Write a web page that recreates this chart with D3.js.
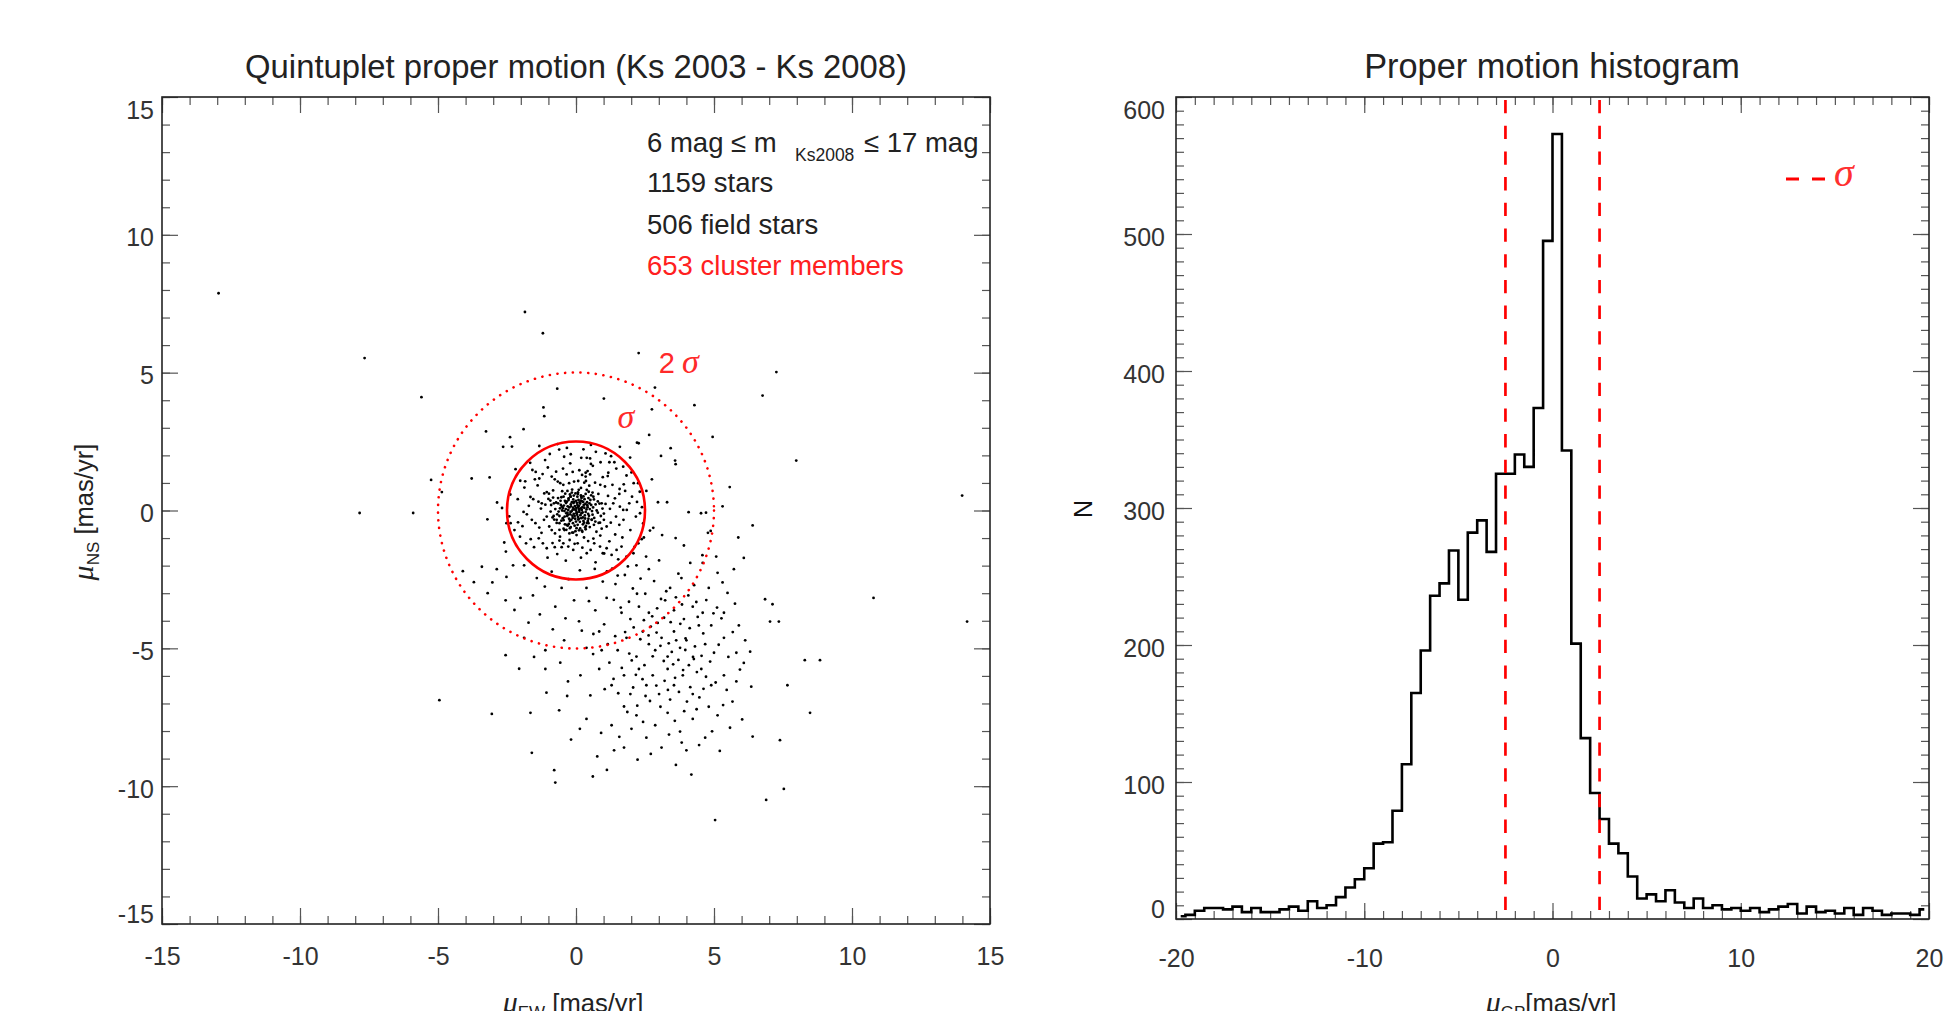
<!DOCTYPE html>
<html><head><meta charset="utf-8">
<script src="https://cdn.jsdelivr.net/npm/d3@7"></script>
<style>body{margin:0;background:#fff} svg{display:block}</style>
</head><body>
<svg id="c" width="1957" height="1011"></svg>
<script>
// ---------------- DATA ----------------
// histogram of mu_GP, bins of 0.5 mas/yr, first bin centre -19.75
const histBinCenters = d3.range(-19.75, 20, 0.5);
const histCounts = [2,3,6,8,8,7,9,5,8,5, 5,7,9,6,13,8,10,16,23,29,
  37,55,56,79,113,165,196,236,245,269, 233,282,291,268,325,325,339,330,373,495,
  573,342,201,132,92,73,55,48,31,15, 18,13,21,12,8,15,8,10,7,8,
  6,8,5,7,9,11,4,9,5,6, 4,8,3,8,6,3,4,4,3,7];
const sigma = 2.5;
// star proper motions [mu_EW, mu_NS] in mas/yr
const coreStars = [[0.0,0.0],[0.1,0.05],[-0.1,0.1],[0.2,-0.1],[-0.2,-0.05],[0.05,0.2],[-0.05,-0.2],[0.15,0.25],[-0.15,0.3],[0.3,0.1],[-0.3,0.15],[0.25,-0.25],[-0.25,-0.3],[0.35,-0.05],[-0.35,-0.1],[0.0,0.35],[0.0,-0.4],[0.1,-0.3],[-0.1,0.4],[0.4,0.3],[-0.4,0.35],[0.45,-0.3],[-0.45,-0.35],[0.5,0.05],[-0.5,0.0],[0.2,0.45],[-0.2,0.5],[0.25,-0.5],[-0.3,-0.55],[0.55,0.2],[-0.55,0.2],[0.6,-0.15],[-0.6,-0.2],[0.08,0.12],[-0.08,-0.12],[0.12,-0.05],[-0.12,0.03],[0.18,0.08],[-0.18,0.15],[0.02,-0.1],[0.28,0.2],[-0.28,0.02],[0.32,-0.18],[-0.32,-0.2],[0.05,0.5],[-0.05,-0.55],[0.4,-0.45],[-0.4,-0.5],[0.45,0.45],[-0.45,0.5],[0.65,0.4],[-0.65,0.45],[0.7,-0.4],[-0.7,-0.45],[0.15,-0.65],[-0.15,0.65],[0.35,0.6],[-0.35,-0.7],[0.75,0.0],[-0.75,0.05],[0.22,0.33],[-0.22,-0.38],[0.5,-0.6],[-0.5,0.7],[0.85,0.25],[-0.85,-0.25],[0.1,0.75],[-0.1,-0.8],[0.6,0.65],[-0.6,-0.7],[0.9,-0.2],[-0.9,0.2],[0.42,0.12],[-0.42,-0.02],[0.03,0.28],[-0.03,-0.3],[0.27,-0.38],[-0.27,0.38],[0.58,-0.02],[-0.58,0.08],
  [0.03,-0.07],[-0.06,0.04],[0.11,0.17],[-0.13,-0.19],[0.21,0.02],[-0.19,0.22],[0.07,-0.23],[-0.24,0.11],[0.16,-0.17],[-0.09,0.27],[0.26,0.31],[-0.31,-0.08],[0.33,-0.29],[-0.17,-0.34],[0.09,0.38],[-0.36,0.27],[0.38,0.04],[-0.04,0.16],[0.14,-0.41],[-0.41,-0.22],[0.23,0.12],[-0.27,0.44],[0.44,-0.12],[-0.11,-0.46],[0.31,0.41],[-0.47,0.09],[0.06,-0.52],[0.49,0.26],[-0.22,0.58],[0.18,0.55],[-0.53,-0.37],[0.57,-0.33],[-0.02,0.62],[0.36,-0.56],[-0.39,0.61],[0.62,0.11],[-0.63,-0.04],[0.12,0.02],[-0.16,-0.03],[0.01,0.09],[0.04,-0.15],[-0.21,-0.14],[0.24,-0.07],[0.17,0.36],[-0.33,0.32],[0.29,-0.44],[-0.26,-0.49],[0.41,0.19],[-0.44,0.18],[0.08,-0.33],[-0.07,0.31],[0.34,0.24],[-0.12,-0.27],[0.19,-0.28],[-0.29,-0.15],[0.13,0.29],[-0.37,0.05],[0.47,-0.19],[-0.48,-0.28],[0.27,0.51],[-0.08,0.54],[0.02,-0.64],[-0.19,-0.6],[0.43,-0.38],[0.52,0.38],[-0.56,0.35],[0.66,-0.27],[-0.68,-0.14],[0.11,-0.72],[-0.31,0.71],[0.71,0.22],[-0.72,0.29],[0.23,-0.77],[-0.45,-0.66],[0.55,0.55],[0.07,0.66],[-0.02,-0.75],[0.35,-0.68],[-0.14,0.76],[0.79,-0.08],[-0.79,-0.33],[0.46,0.68],[-0.24,-0.83],[0.18,0.82],[0.82,-0.45],[-0.83,0.47]];
const innerStars = [[-0.43,1.95],[0.19,1.91],[0.39,1.91],[0.51,1.89],[0.54,1.69],[0.89,1.75],[1.21,1.75],[1.39,1.75],[1.58,0.78],[1.73,0.95],
  [-0.72,1.41],[-0.34,1.31],[-0.12,1.4],[0.12,1.46],[0.35,1.37],[0.42,1.43],[0.22,1.29],[0.35,1.23],[0.51,1.31],[1.17,1.37],[1.15,1.25],
  [-1.58,1.47],[-1.46,1.4],[-1.49,1.13],[-1.33,1.16],[-1.15,0.62],[-1.06,0.67],[-0.77,1.13],[-0.66,1.05],[-0.57,0.99],[-0.46,0.93],[-0.25,0.99],[-0.07,1.05],[0.08,1.07],[0.3,1.01],[0.36,1.07],[0.48,0.9],[0.69,1.01],[0.88,0.93],[1.05,0.87],[1.32,0.93],[1.57,0.6],
  [-1.65,0.49],[-1.55,0.41],[-1.36,0.32],[-1.24,0.26],[-1.0,0.42],[-0.93,0.36],[-0.8,0.26],[-0.65,0.26],[-0.53,0.48],[-0.51,0.14],[-0.38,0.32],[-0.19,0.5],[0.07,0.6],[0.19,0.5],[0.39,0.75],[0.63,0.5],[0.81,0.6],[0.93,0.26],[1.07,0.24],[1.35,0.26],[1.59,0.14],[1.71,0.02],[1.93,0.26],[2.03,0.5],
  [-1.6,-0.34],[-1.47,-0.46],[-1.33,-0.62],[-1.16,-0.34],[-1.06,-0.22],[-0.92,-0.04],[-0.81,-0.2],[-0.7,-0.34],[-0.6,-0.46],[-0.88,-0.71],[-0.76,-0.83],[-0.58,-0.95],[-0.42,-0.71],[-0.34,-0.52],[-0.22,-0.64],[-0.14,-0.8],[0.02,-0.89],[0.21,-0.73],[0.33,-0.61],[0.45,-0.46],[0.57,-0.34],[0.65,-0.52],[0.87,-0.44],[1.01,-0.34],[1.11,-0.58],[1.26,-0.44],[1.45,-0.22],[1.57,-0.52],[1.72,-0.34],[1.84,0.02],[2.17,-0.22],[2.32,-0.1],
  [-2.03,-0.95],[-1.81,-1.19],[-1.64,-1.04],[-1.35,-1.01],[-1.2,-1.19],[-1.06,-1.37],[-0.77,-1.33],[-0.6,-1.09],[-0.46,-1.19],[-0.28,-1.31],[-0.1,-1.43],[0.06,-1.19],[0.23,-1.35],[0.39,-1.55],[0.53,-1.43],[0.66,-1.19],[0.87,-1.31],[0.97,-1.55],[1.11,-1.37],[1.29,-1.61],[1.47,-1.43],[1.65,-1.31],[1.83,-1.67],[2.08,-1.55],[2.26,-1.19],[2.38,-1.04],[2.46,-0.98],[2.54,-1.67],
  [-1.12,1.83],[-0.61,2.21],[0.72,2.13],[1.46,1.52],[1.83,1.27],[-1.87,0.83],[-2.11,0.41],[-2.23,-0.71],[-1.94,-0.57],[-1.71,0.17],[-1.39,0.91],[-1.02,1.56],[-0.83,0.73],[-0.97,-0.58],[-1.25,-0.81],[-1.52,-1.33],[-1.03,-1.71],[-0.68,-1.58],[-0.37,-1.82],[0.18,-1.71],[0.71,-1.88],[1.21,-1.12],[1.42,-0.87],[1.68,-0.98],[1.97,-0.71],[2.12,-1.32],[1.88,-2.03],[1.31,-2.11],[0.88,-0.91],[0.63,-1.02],[1.16,0.53],[1.41,0.44],[1.78,0.71],[2.21,0.31],[2.31,0.68],[0.97,1.21],[0.61,1.62],[-0.21,1.71],[-0.47,1.52],[-0.88,1.23],[-1.21,1.32],[-2.02,1.08],[-1.78,-0.14],[-1.27,0.07],[-1.11,0.21],[-0.98,0.61],[1.01,-0.11],[1.23,0.06],[0.96,0.07],[0.79,0.33],[0.93,-0.66],[0.74,-0.77],[-0.52,-1.33],[-0.85,-1.18],[0.44,-1.11],[0.29,-0.98],[-0.23,-1.07],[-0.05,-1.21],[1.53,-1.77],[1.02,-1.56],[2.43,-0.47],[2.39,0.12],[-2.38,0.58],[-2.42,-0.21],[-0.33,2.27],[0.27,2.22],[1.07,2.07],[-1.66,1.73],[1.71,1.59],[2.01,1.38]];
const haloStars = [[-1.85,7.2],[-1.2,6.43],[2.27,5.71],[-5.6,4.11],[-0.68,4.42],[1.01,4.06],[2.86,4.46],[4.29,3.82],[-1.18,3.74],[-1.15,3.42],[2.75,3.67],[-1.9,2.95],[-3.26,2.87],[-2.39,2.66],[-2.64,2.31],[-2.32,2.32],[-1.33,2.34],[-0.67,2.41],[0.54,2.38],[1.59,2.31],[2.21,2.46],[2.27,2.44],[2.65,2.74],[3.43,2.26],[4.95,2.67],[-0.95,2.05],[-0.19,2.04],[1.27,1.97],[1.96,1.92],[3.08,1.98],[3.59,1.81],[3.61,1.68],[-5.25,1.11],[-3.78,1.16],[-3.13,1.2],[-2.19,1.5],[-4.86,0.67],[-2.86,0.29],[-2.68,0.09],[-3.21,-0.32],[-2.52,-0.46],[-2.37,-0.46],[-2.1,-0.43],[-1.9,-0.05],[-1.84,1.06],[2.75,1.13],[2.09,0.99],[2.25,0.99],[2.55,0.71],[2.97,0.3],[3.3,0.3],[4.08,-0.06],[4.53,-0.1],[4.71,-0.08],[5.57,0.85],[5.31,0.15],[5.88,-0.98],[4.88,-0.74],[4.78,-0.81],[2.8,-0.63],[2.68,-0.73],[3.12,-0.89],[3.61,-1.0],[3.91,-1.27],[-2.6,-1.16],[-2.54,-1.49],[4.58,-1.62],[5.08,-1.67]];
const fieldStars = [[-3.41,-2.04],[-2.87,-2.13],[-2.28,-1.99],[-1.88,-1.99],[-1.42,-2.45],[-0.88,-2.22],[-0.52,-2.81],[0.38,-2.81],[0.97,-2.58],[1.51,-2.36],[2.19,-1.99],[2.64,-2.13],[3.01,-1.81],[3.41,-2.81],[3.82,-2.45],[4.14,-1.9],[4.59,-1.9],[4.81,-2.81],[5.13,-2.26],[5.49,-2.99],[5.72,-2.13],
  [-2.55,-3.26],[-2.01,-3.17],[-1.56,-3.08],[-0.75,-3.49],[-0.07,-3.26],[0.7,-3.62],[1.11,-3.17],[1.65,-3.71],[1.97,-3.94],[2.28,-3.49],[2.64,-3.71],[2.96,-4.08],[3.23,-3.26],[3.55,-3.62],[3.91,-3.94],[4.23,-3.49],[4.59,-3.71],[4.9,-4.17],[5.36,-3.71],[5.9,-4.17],
  [-1.88,-4.62],[-1.11,-5.07],[-0.43,-4.71],[0.38,-4.98],[0.84,-4.39],[1.15,-4.85],[1.51,-5.07],[1.83,-4.62],[2.19,-5.3],[2.42,-4.39],[2.64,-4.85],[2.87,-5.07],[3.1,-4.62],[3.32,-5.3],[3.55,-4.39],[3.77,-4.98],[4.0,-4.71],[4.27,-5.39],[4.45,-4.17],[4.68,-4.85],[5.0,-5.16],[5.36,-4.62],[5.81,-5.16],[6.08,-5.53],
  [-1.11,-5.75],[-0.29,-6.2],[0.16,-5.98],[0.84,-5.75],[1.29,-6.34],[1.74,-5.98],[1.97,-6.66],[2.28,-5.75],[2.55,-6.34],[2.78,-5.98],[3.01,-6.66],[3.32,-5.75],[3.55,-6.34],[3.87,-5.98],[4.23,-6.66],[4.54,-5.75],[4.9,-6.34],[5.36,-5.98],[5.81,-6.2],
  [-1.65,-7.34],[-0.61,-7.25],[0.38,-7.56],[1.29,-7.79],[1.74,-7.11],[2.19,-7.43],[2.55,-8.24],[2.87,-7.79],[3.32,-7.34],[3.77,-8.02],[4.23,-7.56],[4.68,-8.24],[5.13,-7.43],[5.58,-7.88],[4.0,-8.7],[3.1,-8.6],[1.74,-8.6],[1.38,-8.7],
  [-4.1,-2.2],[-3.7,-2.6],[-3.2,-3.0],
  [1.12,-2.21],[1.43,-2.67],[1.77,-2.34],[2.06,-2.83],[2.34,-2.47],[2.51,-3.02],[2.83,-2.56],[3.08,-3.21],[3.27,-2.93],[3.62,-3.15],[3.84,-3.41],[4.07,-3.08],[4.36,-3.32],[4.72,-3.25],[5.11,-3.52],[5.27,-3.91],[4.98,-3.73],[4.41,-3.86],[4.12,-4.27],[3.78,-4.11],[3.43,-4.05],[3.19,-3.89],[2.71,-4.21],[2.46,-3.98],[2.09,-4.24],[1.78,-4.41],[1.42,-4.56],[1.02,-4.13],[0.63,-4.48],[0.21,-4.36],[2.33,-4.67],[2.92,-4.43],[3.36,-4.82],[3.63,-4.71],[3.96,-5.06],[4.31,-4.93],[4.55,-5.27],[4.86,-5.48],[5.17,-4.87],[5.52,-5.31],[5.68,-4.41],[3.47,-5.13],[3.18,-5.46],[2.78,-5.29],[2.48,-5.61],[2.02,-5.44],[1.66,-5.71],[1.21,-5.52],[0.62,-5.21],[3.71,-5.42],[4.09,-5.61],[3.88,-5.79],[4.38,-5.86],[4.71,-6.03],[5.06,-6.24],[5.46,-6.51],[3.59,-6.07],[3.21,-6.18],[2.91,-6.35],[2.41,-6.12],[2.07,-6.42],[1.53,-6.63],[1.04,-6.48],[0.52,-6.71],[3.73,-6.58],[4.14,-6.41],[4.47,-6.78],[4.02,-6.93],[3.41,-6.86],[2.68,-6.91],[2.22,-7.08],[1.86,-7.31],[3.06,-7.12],[3.58,-7.63],[3.92,-7.28],[4.37,-7.21],[4.81,-7.12],[5.33,-7.06],[2.43,-7.67],[2.01,-7.92],[1.57,-8.21],[0.91,-8.07],[3.37,-8.13],[3.83,-8.42],[4.46,-8.51],[2.71,-8.83],[2.23,-9.04],[0.14,-7.92],[-0.32,-6.73],[-0.57,-5.52],[-0.84,-4.31],[-1.31,-3.77],[-1.72,-4.07],[-2.23,-3.61],[-0.38,-3.91],[0.11,-4.02],[0.47,-3.29],[-0.27,-2.49],[0.14,-2.17],[0.68,-2.12],[-1.13,-2.76],[-2.52,-2.41],[-3.03,-2.61],[1.37,-3.24],[1.92,-3.31],[2.21,-3.02],[2.94,-3.55],[3.71,-2.29],[4.28,-2.71],[5.31,-2.61],[5.76,-3.38],[6.13,-4.71],[6.31,-5.12],[5.94,-5.77],[5.67,-6.93],[6.02,-7.58],[4.93,-8.01],[5.21,-8.72],[1.93,-5.19],[2.63,-4.53],[3.06,-4.91],[3.52,-5.58],[4.24,-5.31],[3.33,-6.51],[2.52,-6.73],[4.62,-6.47],[3.97,-4.64],[4.61,-4.46],[2.17,-5.96],[1.36,-6.11],[0.93,-5.07],[1.62,-3.52],[2.76,-3.84],[-1.52,-5.31],[-2.06,-5.74],[-1.07,-6.61],[-0.18,-8.31],[0.77,-8.92],[1.12,-9.41],[3.62,-9.23],[4.18,-9.58]];
const outlierStars = [[-12.95,7.88],[-7.66,5.53],[-7.84,-0.09],[-5.9,-0.09],[7.26,5.02],[6.76,4.17],[7.98,1.81],[13.99,0.54],[14.17,-4.03],[10.78,-3.17],[6.85,-3.22],[7.12,-3.4],[7.03,-4.03],[7.35,-4.03],[6.08,-1.72],[6.4,-0.54],[8.29,-5.43],[8.84,-5.43],[7.66,-6.34],[8.48,-7.34],[6.35,-6.39],[7.39,-8.33],[7.53,-10.1],[6.89,-10.5],[6.4,-8.2],[5.04,-11.23],[-4.95,-6.88],[-3.05,-7.38],[-2.55,-5.25],[-1.6,-8.79],[-0.79,-9.42],[-0.75,-9.87],[0.61,-9.65]];
const scatterMajor = [-15,-10,-5,0,5,10,15];
const histXMajor = [-20,-10,0,10,20];
const histYMajor = [0,100,200,300,400,500,600];
const infoLines = ["1159 stars","506 field stars","653 cluster members"];

// ---------------- DRAW ----------------
const FONT = "'Liberation Sans', Arial, Helvetica, sans-serif";
const SERIF = "'Liberation Serif', 'Times New Roman', serif";
const RED = "#ff0000";
const svg = d3.select('#c');
const fmt = d => String(d);

function frameAxes(x, y, o) {
  const [x0,x1] = x.range(), [y0,y1] = y.range();
  const g = svg.append('g');
  const tickStyle = s => s.call(q=>q.select('.domain').remove())
     .call(q=>q.selectAll('line').attr('stroke','#555').attr('stroke-width',1.2));
  const lab = s => s.selectAll('text').attr('font-family',FONT).attr('font-size',25).attr('fill','#333');
  g.append('g').attr('transform',`translate(0,${y0})`).call(d3.axisBottom(x).tickValues(o.xMinor).tickSize(-8).tickFormat('')).call(tickStyle);
  g.append('g').attr('transform',`translate(0,${y1})`).call(d3.axisTop(x).tickValues(o.xMinor).tickSize(-8).tickFormat('')).call(tickStyle);
  g.append('g').attr('transform',`translate(${x0},0)`).call(d3.axisLeft(y).tickValues(o.yMinor).tickSize(-8).tickFormat('')).call(tickStyle);
  g.append('g').attr('transform',`translate(${x1},0)`).call(d3.axisRight(y).tickValues(o.yMinor).tickSize(-8).tickFormat('')).call(tickStyle);
  g.append('g').attr('transform',`translate(0,${y0})`).call(d3.axisBottom(x).tickValues(o.xMajor).tickSize(-16).tickPadding(o.xPad).tickFormat(fmt)).call(tickStyle).call(lab);
  g.append('g').attr('transform',`translate(0,${y1})`).call(d3.axisTop(x).tickValues(o.xMajor).tickSize(-16).tickFormat('')).call(tickStyle);
  const ly = g.append('g').attr('transform',`translate(${x0},0)`).call(d3.axisLeft(y).tickValues(o.yMajor).tickSize(-16).tickPadding(o.yPad).tickFormat(fmt)).call(tickStyle).call(lab);
  g.append('g').attr('transform',`translate(${x1},0)`).call(d3.axisRight(y).tickValues(o.yMajor).tickSize(-16).tickFormat('')).call(tickStyle);
  const yd = y.domain();
  ly.selectAll('.tick text').attr('y', d => d===yd[1] ? 13 : (d===yd[0] ? -10 : 3));
  g.append('rect').attr('x',x0).attr('y',y1).attr('width',x1-x0).attr('height',y0-y1)
    .attr('fill','none').attr('stroke','#222').attr('stroke-width',1.6);
}

// ---- left: scatter ----
const xS = d3.scaleLinear().domain([-15,15]).range([162,990]);
const yS = d3.scaleLinear().domain([-15,15]).range([924,97]);
frameAxes(xS, yS, {xMajor:scatterMajor, yMajor:scatterMajor, xMinor:d3.range(-15,16,1), yMinor:d3.range(-15,16,1), xPad:23, yPad:8});

const stars = [].concat(coreStars, innerStars, haloStars, fieldStars, outlierStars);
svg.append('g').selectAll('circle').data(stars).join('circle')
  .attr('cx',d=>xS(d[0])).attr('cy',d=>yS(d[1])).attr('r',1.4).attr('fill','#000');

svg.append('circle').attr('cx',xS(0)).attr('cy',yS(0)).attr('r',xS(sigma)-xS(0))
  .attr('fill','none').attr('stroke',RED).attr('stroke-width',2.6);
svg.append('circle').attr('cx',xS(0)).attr('cy',yS(0)).attr('r',xS(2*sigma)-xS(0))
  .attr('fill','none').attr('stroke',RED).attr('stroke-width',2.6)
  .attr('stroke-dasharray','0.1 7.6').attr('stroke-linecap','round');

const t2 = svg.append('text').attr('x',xS(3.0)).attr('y',yS(5.0)).attr('fill','#ff2a2a');
t2.append('tspan').attr('font-family',FONT).attr('font-size',29).text('2');
t2.append('tspan').attr('font-family',SERIF).attr('font-style','italic').attr('font-size',34).attr('dx',7).text('σ');
svg.append('text').attr('x',xS(1.5)).attr('y',yS(3.0)).attr('fill','#ff2a2a')
  .attr('font-family',SERIF).attr('font-style','italic').attr('font-size',34).text('σ');

const info = svg.append('g').attr('font-family',FONT).attr('font-size',27.5).attr('fill','#222');
info.append('text').attr('x',647).attr('y',152).text('6 mag ≤ m');
info.append('text').attr('x',795).attr('y',161).attr('font-size',17.5).text('Ks2008');
info.append('text').attr('x',864).attr('y',152).text('≤ 17 mag');
info.selectAll('text.l').data(infoLines).join('text').attr('class','l')
  .attr('x',647).attr('y',(d,i)=>192+i*41.5).attr('fill',(d,i)=>i===2?'#ff2020':'#222').text(d=>d);

svg.append('text').attr('x',576).attr('y',78).attr('text-anchor','middle').attr('font-family',FONT)
  .attr('font-size',32.8).attr('fill','#222').text('Quintuplet proper motion (Ks 2003 - Ks 2008)');
svg.append('text').attr('x',1552).attr('y',78).attr('text-anchor','middle').attr('font-family',FONT)
  .attr('font-size',34.3).attr('fill','#222').text('Proper motion histogram');

function muLabel(x, y, sub, rest, rot) {
  const t = svg.append('text').attr('text-anchor','middle').attr('fill','#222')
    .attr('transform',`translate(${x},${y})` + (rot?' rotate(-90)':''));
  t.append('tspan').attr('font-family',SERIF).attr('font-style','italic').attr('font-size',30).text('μ');
  t.append('tspan').attr('font-family',FONT).attr('font-size',17).attr('dy',6).text(sub);
  t.append('tspan').attr('font-family',FONT).attr('font-size',25.6).attr('dy',-6).text(rest);
}
muLabel(573, 1012, 'EW', ' [mas/yr]', false);
muLabel(93, 512, 'NS', ' [mas/yr]', true);
muLabel(1551, 1012, 'GP', '[mas/yr]', false);
svg.append('text').attr('transform','translate(1092,509) rotate(-90)').attr('text-anchor','middle')
  .attr('font-family',FONT).attr('font-size',25).attr('fill','#111').text('N');

// ---- right: histogram ----
const hx = d3.scaleLinear().domain([-20,20]).range([1176,1929]);
const hy = d3.scaleLinear().domain([0,600]).range([919,97]);
frameAxes(hx, hy, {xMajor:histXMajor, yMajor:histYMajor, xMinor:d3.range(-20,21,1), yMinor:d3.range(0,601,10), xPad:30, yPad:11});

const bins = histBinCenters.map((c,i)=>({c, n:histCounts[i]}));
svg.append('path').datum(bins)
  .attr('d', d3.line().x(d=>hx(d.c)).y(d=>hy(d.n)).curve(d3.curveStep))
  .attr('fill','none').attr('stroke','#000').attr('stroke-width',2.6);

svg.append('g').selectAll('line').data([-sigma, sigma]).join('line')
  .attr('x1',d=>hx(d)).attr('x2',d=>hx(d)).attr('y1',hy(600)+3).attr('y2',hy(0))
  .attr('stroke',RED).attr('stroke-width',2.7).attr('stroke-dasharray','13.3 12.4');

svg.append('line').attr('x1',1786).attr('x2',1825).attr('y1',179).attr('y2',179)
  .attr('stroke',RED).attr('stroke-width',2.8).attr('stroke-dasharray','13 13');
svg.append('text').attr('x',1834).attr('y',186).attr('font-family',SERIF).attr('font-style','italic')
  .attr('font-size',40).attr('fill','#ff3030').text('σ');
</script>
</body></html>
